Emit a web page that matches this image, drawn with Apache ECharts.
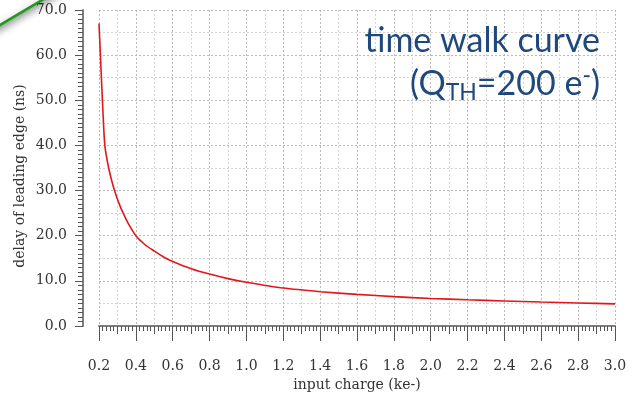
<!DOCTYPE html>
<html>
<head>
<meta charset="utf-8">
<script src="https://cdn.jsdelivr.net/npm/echarts@6/dist/echarts.min.js"></script>
<style>
  html, body { margin: 0; padding: 0; background: #ffffff; }
  #chart { width: 635px; height: 395px; }
</style>
</head>
<body>
<div id="chart"></div>
<script>
// Input charge (ke-) and the measured delay of the leading edge (ns)
const chargeKe = [0.200, 0.213, 0.226, 0.233, 0.250, 0.270, 0.290, 0.310, 0.330, 0.360,
                  0.400, 0.450, 0.500, 0.550, 0.600, 0.700, 0.800, 0.900, 1.000, 1.200,
                  1.400, 1.600, 1.800, 2.000, 2.200, 2.400, 2.600, 2.800, 3.000];
const delayNs  = [67.0, 55.0, 43.5, 39.5, 35.5, 32.0, 29.3, 27.0, 25.1, 22.6,
                  20.0, 18.0, 16.6, 15.3, 14.3, 12.7, 11.5, 10.5, 9.7, 8.4,
                  7.6, 7.0, 6.5, 6.1, 5.8, 5.55, 5.3, 5.1, 4.9];

const xTitle = 'input charge (ke-)';
const yTitle = 'delay of leading edge (ns)';
const titleLine1 = 'time walk curve';

const points = chargeKe.map((q, i) => [q, delayNs[i]]);

const serif = 'DejaVu Serif';
const labelColor = '#333333';
const axisLineStyle = { color: '#808080', width: 2 };
const tickStyle = { color: '#555555', width: 1 };
const majorGrid = { color: '#bababa', width: 1, type: [2, 2] };
const minorGrid = { color: '#d4d4d4', width: 1, type: [2, 2] };
const titleBlue = '#1f497d';

const chart = echarts.init(document.getElementById('chart'), null, { renderer: 'canvas' });

chart.setOption({
  animation: false,
  backgroundColor: '#ffffff',
  grid: { left: 99, right: 20, top: 10, bottom: 69, containLabel: false, outerBoundsMode: 'none' },
  xAxis: [
    { // visible axis: line, long ticks, fine ticks, labels
      type: 'value', position: 'bottom', min: 0.2, max: 3.0, interval: 0.2, offset: 9,
      axisLine: { show: true, lineStyle: axisLineStyle },
      axisTick: { show: true, length: 15, lineStyle: tickStyle },
      minorTick: { show: true, splitNumber: 10, length: 5, lineStyle: tickStyle },
      axisLabel: { margin: 24, fontFamily: serif, fontSize: 14, color: labelColor,
                   formatter: v => v.toFixed(1) },
      splitLine: { show: false },
      name: xTitle, nameLocation: 'middle', nameGap: 42,
      nameTextStyle: { fontFamily: serif, fontSize: 14, color: labelColor }
    },
    { // medium ticks at every 0.1
      type: 'value', position: 'bottom', min: 0.2, max: 3.0, interval: 0.1, offset: 9,
      axisLine: { show: false },
      axisTick: { show: true, length: 8, lineStyle: tickStyle },
      axisLabel: { show: false },
      splitLine: { show: false }
    },
    { // plot grid
      type: 'value', position: 'bottom', min: 0.2, max: 3.0, interval: 0.2,
      axisLine: { show: false }, axisTick: { show: false }, axisLabel: { show: false },
      splitLine: { show: true, lineStyle: majorGrid },
      minorTick: { show: false, splitNumber: 2 },
      minorSplitLine: { show: true, lineStyle: minorGrid }
    }
  ],
  yAxis: [
    {
      type: 'value', position: 'left', min: 0, max: 70, interval: 10, offset: 16,
      axisLine: { show: true, lineStyle: axisLineStyle },
      axisTick: { show: true, length: 8, lineStyle: tickStyle },
      minorTick: { show: true, splitNumber: 10, length: 5, lineStyle: tickStyle },
      axisLabel: { margin: 16, fontFamily: serif, fontSize: 14, color: labelColor,
                   formatter: v => v.toFixed(1) },
      splitLine: { show: false }
    },
    {
      type: 'value', position: 'left', min: 0, max: 70, interval: 10,
      axisLine: { show: false }, axisTick: { show: false }, axisLabel: { show: false },
      splitLine: { show: true, lineStyle: majorGrid },
      minorTick: { show: false, splitNumber: 2 },
      minorSplitLine: { show: true, lineStyle: minorGrid }
    }
  ],
  series: [{
    type: 'line', xAxisIndex: 0, yAxisIndex: 0, data: points,
    symbol: 'none', smooth: 0.25,
    lineStyle: { color: '#e3161b', width: 1.6 },
    z: 5
  }],
  graphic: [
    { // slide shape corner with green outline
      type: 'polygon', z: 100,
      shape: { points: [[-20, -20], [62, -20], [62, -11.9], [-20, 36.9]] },
      style: { fill: '#ffffff', stroke: '#1e9b1e', lineWidth: 2.5,
               shadowBlur: 8, shadowColor: 'rgba(0,0,0,0.45)', shadowOffsetX: -2, shadowOffsetY: 4 }
    },
    {
      type: 'text', z: 100, right: 35, top: 24,
      style: { text: titleLine1, font: '34px Lato', fill: titleBlue }
    },
    {
      type: 'text', z: 100, right: 35, top: 64,
      style: {
        text: '{n|(Q}{s|TH}{n|=200 e}{p|-}{n|)}',
        rich: {
          n: { fontFamily: 'Lato', fontSize: 34, fill: titleBlue, lineHeight: 40, verticalAlign: 'middle' },
          s: { fontFamily: 'Lato', fontSize: 23, fill: titleBlue, lineHeight: 14, verticalAlign: 'bottom' },
          p: { fontFamily: 'Lato', fontSize: 23, fill: titleBlue, lineHeight: 23, verticalAlign: 'top' }
        }
      }
    },
    {
      type: 'text', z: 100, x: 20, y: 176, rotation: Math.PI / 2,
      style: { text: yTitle, font: '14px "' + serif + '"', fill: labelColor,
               align: 'center', verticalAlign: 'middle' }
    }
  ]
});
</script>
</body>
</html>
